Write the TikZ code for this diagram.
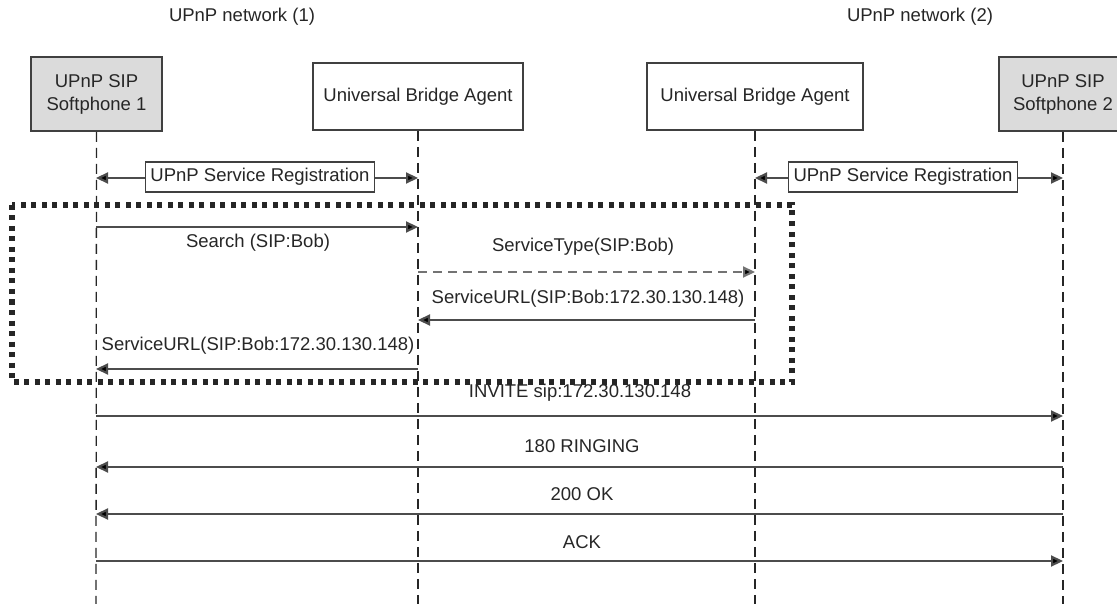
\documentclass[tikz,border=0pt]{standalone}
\usepackage{fontspec}
\setmainfont{Liberation Sans}
\usetikzlibrary{arrows.meta}
\begin{document}
\begin{tikzpicture}[x=1pt,y=-1pt,
  every node/.style={font=\fontsize{18.5}{23}\selectfont, text=black!85},
  actor/.style={draw=black!75, line width=1.6pt, minimum height=70pt, align=center, inner sep=2pt},
  gray actor/.style={actor, fill=black!14},
  lifeline/.style={draw=black!85, line width=1.3pt, dash pattern=on 10pt off 6pt},
  msg/.style={draw=black!70, line width=2.2pt, -{Triangle[length=12pt,width=11pt,fill=black]}},
  dmsg/.style={msg, draw=black!55, dash pattern=on 9pt off 6pt},
  regbox/.style={draw=black!75, line width=1.4pt, fill=white, minimum height=30pt, inner xsep=5pt},
  lbl/.style={inner sep=1pt},
  dotbox/.style={draw=black!85, line width=5.5pt, dash pattern=on 5pt off 5.5pt}
]
\useasboundingbox (0,0) rectangle (1117,604);

% titles
\node[lbl] (t1) at (242,17) {UPnP network (1)};
\node[lbl] (t2) at (920,17) {UPnP network (2)};

% actors
\node[gray actor, minimum width=131pt, minimum height=74pt] (a1) at (96.5,94) {UPnP SIP\\Softphone 1};
\node[actor, minimum width=210pt, minimum height=67pt] (a2) at (418,96.5) {Universal Bridge Agent};
\node[actor, minimum width=216pt, minimum height=67pt] (a3) at (755,96.5) {Universal Bridge Agent};
\node[gray actor, minimum width=128pt, minimum height=74pt] (a4) at (1063,94) {UPnP SIP\\Softphone 2};

% lifeline ends
\coordinate (e1) at (96,604);
\coordinate (e2) at (418,604);
\coordinate (e3) at (755,604);
\coordinate (e4) at (1063,604);
\draw[lifeline] (a1.south) -- (e1);
\draw[lifeline] (a2.south) -- (e2);
\draw[lifeline] (a3.south) -- (e3);
\draw[lifeline] (a4.south) -- (e4);

% registration
\coordinate (r1) at (96,178);
\coordinate (r2) at (418,178);
\coordinate (r3) at (755,178);
\coordinate (r4) at (1063,178);
\node[regbox] (reg1) at (260,177) {UPnP Service Registration};
\node[regbox] (reg2) at (903,177) {UPnP Service Registration};
\draw[msg] (reg1.west |- r1) -- (r1);
\draw[msg] (reg1.east |- r2) -- (r2);
\draw[msg] (reg2.west |- r3) -- (r3);
\draw[msg] (reg2.east |- r4) -- (r4);

% dotted box
\draw[dotbox] (12,205) rectangle (792,382);

% messages
\coordinate (s1) at (96,227); \coordinate (s2) at (418,227);
\draw[msg] (s1) -- (s2);
\node[lbl] (ls) at (258,243) {Search (SIP:Bob)};

\coordinate (st2) at (418,272); \coordinate (st3) at (755,272);
\draw[dmsg] (st2) -- (st3);
\node[lbl] (lst) at (583,247) {ServiceType(SIP:Bob)};

\coordinate (u3) at (755,320); \coordinate (u2) at (418,320);
\draw[msg] (u3) -- (u2);
\node[lbl] (lu1) at (588,299) {ServiceURL(SIP:Bob:172.30.130.148)};

\coordinate (v2) at (418,369); \coordinate (v1) at (96,369);
\draw[msg] (v2) -- (v1);
\node[lbl] (lu2) at (258,346) {ServiceURL(SIP:Bob:172.30.130.148)};

\coordinate (i1) at (96,416); \coordinate (i4) at (1063,416);
\draw[msg] (i1) -- (i4);
\node[lbl] (li) at (580,393) {INVITE sip:172.30.130.148};

\coordinate (g4) at (1063,467); \coordinate (g1) at (96,467);
\draw[msg] (g4) -- (g1);
\node[lbl] (lg) at (582,446) {180 RINGING};

\coordinate (o4) at (1063,514); \coordinate (o1) at (96,514);
\draw[msg] (o4) -- (o1);
\node[lbl] (lo) at (582,494) {200 OK};

\coordinate (k1) at (96,561); \coordinate (k4) at (1063,561);
\draw[msg] (k1) -- (k4);
\node[lbl] (lk) at (582,542) {ACK};
\end{tikzpicture}
\end{document}
